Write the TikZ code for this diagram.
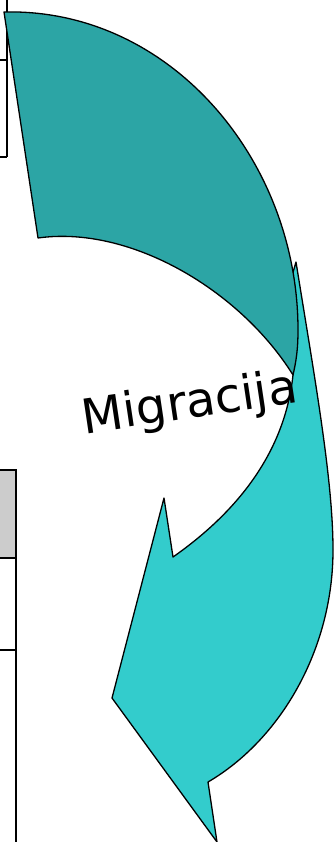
\documentclass[tikz,border=0pt]{standalone}
\usepackage{fontspec}
\setmainfont{DejaVu Sans}
\definecolor{tealback}{RGB}{44,165,165}
\definecolor{tealfront}{RGB}{51,204,204}
\definecolor{cellgray}{RGB}{204,204,204}
\begin{document}
\begin{tikzpicture}[
    x=1pt, y=-1pt,
    tableline/.style={line width=2pt, black},
    arrowpart/.style={draw=black, line width=1.3pt, line join=round},
    label/.style={font=\fontsize{48}{56}\selectfont, inner sep=0pt}
  ]
  \useasboundingbox (0,0) rectangle (334,842);

  % table cut off at the left edge
  \draw[tableline] (7,0) -- (7,157);
  \draw[tableline] (0,60) -- (7,60);
  \draw[tableline] (0,157) -- (7,157);
  \draw[tableline, fill=cellgray] (-2,470) rectangle (16,558);
  \draw[tableline] (0,650) -- (16,650);
  \draw[tableline] (16,558) -- (16,844);

  % front part of the curved arrow
  \draw[arrowpart, fill=tealfront]
    (296,262) .. controls (315,380) and (333,480) .. (333,550)
    .. controls (333,650) and (280,740) .. (208,782)
    -- (217,842) -- (112,698) -- (164,498) -- (173,557)
    .. controls (240,510) and (285,450) .. (293,375)
    -- (285,300) -- cycle;

  % back part of the curved arrow
  \draw[arrowpart, fill=tealback]
    (4,12) .. controls (170,8) and (298,160) .. (298,330)
    .. controls (298,350) and (296,362) .. (293,375)
    .. controls (240,290) and (130,225) .. (38,238)
    -- cycle;

  \node[label, rotate=8.5, anchor=base] (migr) at (192,418) {Migracija};
\end{tikzpicture}
\end{document}
